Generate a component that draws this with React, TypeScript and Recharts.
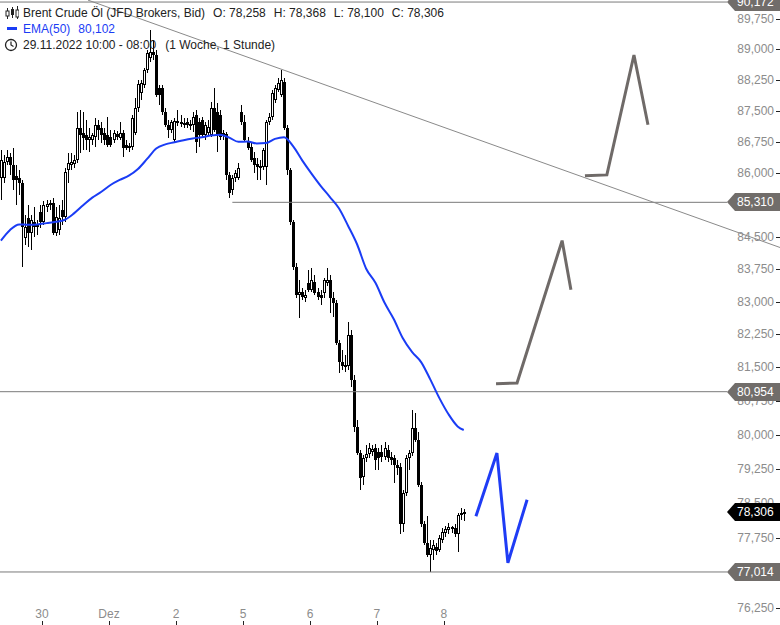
import React from 'react';
import { ComposedChart, Bar, Line, XAxis, YAxis, ReferenceLine } from 'recharts';

const W = 780;
const H = 625;
const FONT = '"Liberation Sans", Arial, sans-serif';

// Brent Crude, hourly candles 29.11.2022 10:00 -> 08.12.2022 08:00
const opens = [
  85.89, 85.89, 86.27, 86.39, 86.2, 85.94, 85.89, 85.77, 84.47, 84.94,
  84.59, 84.85, 84.73, 85.09, 84.85, 85.2, 85.25, 85.3, 84.59, 84.66,
  85.13, 84.97, 86.08, 86.2, 86.22, 86.32, 87.09, 86.97, 86.92, 86.8,
  86.8, 86.87, 87.16, 87.09, 86.97, 86.92, 86.87, 86.8, 86.94, 86.85,
  86.97, 86.68, 86.61, 86.63, 86.97, 87.57, 87.93, 88.13, 88.49, 88.79,
  88.93, 88.86, 88.06, 88.06, 87.47, 87.16, 87.04, 86.8, 87.21, 87.23,
  87.18, 87.23, 87.16, 87.16, 87.4, 87.23, 87.28, 86.92, 86.97, 86.92,
  87.57, 87.47, 87.4, 86.92, 86.94, 85.96, 85.6, 85.89, 85.89, 87.47,
  87.23, 86.78, 86.63, 86.37, 86.22, 86.15, 86.15, 86.15, 87.23, 87.35,
  87.76, 88.01, 87.89, 88.2, 87.09, 86.08, 84.85, 83.8, 83.16, 83.23,
  83.09, 83.43, 83.27, 83.45, 83.23, 83.16, 83.2, 83.43, 83.5, 83.09,
  82.97, 82.06, 81.62, 81.53, 81.53, 82.24, 81.22, 80.17, 79.59, 79.07,
  79.48, 79.57, 79.62, 79.7, 79.62, 79.62, 79.51, 79.66, 79.51, 79.48,
  79.33, 79.29, 78.04, 78.72, 79.48, 79.59, 80.15, 79.88, 78.89, 78.04,
  77.64, 77.38, 77.49, 77.55, 77.49, 77.7, 77.84, 77.91, 77.93, 77.95,
  77.82, 78.23, 78.258,
];
const highs = [
  86.56, 86.44, 86.56, 86.49, 86.61, 86.2, 86.08, 85.84, 85.01, 85.25,
  85.01, 85.2, 84.9, 85.25, 85.34, 85.37, 85.37, 85.41, 85.2, 85.25,
  85.37, 86.13, 86.49, 86.49, 86.44, 87.47, 87.52, 87.47, 87.28, 87.09,
  86.97, 87.33, 87.28, 87.23, 87.09, 87.35, 87.04, 87.04, 87.02, 87.23,
  87.04, 86.8, 86.73, 87.4, 87.81, 88.25, 88.25, 88.54, 88.98, 89.48,
  89.23, 88.98, 88.13, 88.13, 87.57, 87.28, 87.28, 87.33, 87.52, 87.4,
  87.33, 87.33, 87.28, 87.47, 87.52, 87.33, 87.35, 87.23, 87.28, 87.71,
  88.06, 87.69, 87.52, 87.04, 86.99, 86.03, 85.96, 86.08, 86.25, 87.64,
  87.4, 86.87, 86.73, 86.51, 86.37, 86.32, 86.61, 87.28, 87.45, 88.01,
  88.13, 88.3, 88.49, 88.3, 87.16, 86.13, 84.9, 83.89, 83.5, 83.32,
  83.27, 83.73, 83.77, 83.61, 83.32, 83.27, 83.54, 83.77, 83.61, 83.23,
  83.04, 82.13, 81.9, 81.78, 82.53, 82.35, 81.33, 80.33, 79.66, 79.55,
  79.77, 79.81, 79.77, 79.79, 79.7, 79.77, 79.84, 79.77, 79.62, 79.55,
  79.44, 79.37, 78.79, 79.55, 79.66, 80.55, 80.48, 80.06, 78.96, 78.1,
  78.21, 77.7, 77.7, 77.64, 77.81, 77.96, 77.99, 78.06, 78.01, 78.04,
  78.29, 78.4, 78.368,
];
const lows = [
  85.37, 85.77, 86.2, 85.96, 85.6, 85.25, 85.49, 83.8, 84.31, 84.27,
  84.2, 84.5, 84.55, 84.71, 84.78, 85.09, 85.13, 84.55, 84.52, 84.55,
  84.78, 84.85, 85.77, 86.08, 86.13, 86.25, 86.49, 86.56, 86.56, 86.51,
  86.68, 86.63, 86.8, 86.73, 86.68, 86.63, 86.63, 86.73, 86.8, 86.8,
  86.39, 86.56, 86.51, 86.56, 86.92, 87.47, 87.76, 88.06, 88.42, 88.69,
  88.74, 87.84, 87.64, 87.4, 87.11, 86.85, 86.97, 86.75, 87.14, 87.11,
  87.09, 87.09, 87.04, 86.99, 86.49, 86.63, 86.85, 86.8, 86.9, 86.87,
  86.99, 86.51, 86.8, 86.8, 85.84, 85.41, 85.49, 85.79, 85.84, 87.16,
  86.75, 86.56, 86.27, 86.01, 85.84, 85.84, 86.08, 85.72, 87.16, 87.28,
  87.69, 87.96, 87.84, 87.04, 85.96, 84.78, 83.73, 83.09, 82.63, 83.04,
  83.0, 83.23, 83.23, 83.16, 83.04, 82.92, 83.09, 83.36, 82.74, 82.65,
  82.01, 81.37, 81.44, 81.4, 81.44, 81.07, 80.06, 79.55, 78.79, 78.89,
  79.4, 79.48, 79.53, 79.22, 79.22, 79.4, 79.44, 79.4, 79.33, 78.94,
  79.11, 77.82, 77.86, 78.64, 79.22, 79.53, 79.84, 78.85, 77.97, 77.6,
  77.34, 77.014, 77.27, 77.38, 77.45, 77.64, 77.77, 77.82, 77.84, 77.77,
  77.45, 78.14, 78.1,
];
const closes = [
  86.32, 86.27, 86.39, 86.2, 85.84, 85.84, 85.77, 84.73, 84.73, 84.59,
  84.9, 84.73, 84.78, 84.85, 85.25, 85.27, 85.3, 84.59, 84.97, 84.94,
  84.97, 86.03, 86.25, 86.27, 86.32, 87.09, 86.92, 86.85, 86.8, 86.87,
  86.92, 87.16, 87.04, 86.92, 86.8, 86.68, 86.68, 86.97, 86.87, 86.97,
  86.61, 86.61, 86.66, 87.33, 87.57, 88.15, 88.18, 88.49, 88.91, 88.93,
  88.86, 87.89, 87.89, 87.47, 87.16, 87.04, 87.23, 87.26, 87.26, 87.18,
  87.21, 87.16, 87.18, 87.35, 86.75, 86.92, 86.92, 87.16, 87.11, 87.57,
  87.04, 86.92, 86.87, 86.97, 85.96, 85.53, 85.89, 86.01, 86.13, 87.23,
  86.8, 86.61, 86.32, 86.2, 86.15, 86.18, 86.56, 87.23, 87.35, 87.93,
  88.06, 88.18, 88.25, 87.09, 86.08, 84.85, 83.8, 83.16, 83.23, 83.11,
  83.16, 83.27, 83.5, 83.2, 83.11, 83.09, 83.5, 83.5, 83.09, 82.97,
  82.06, 81.62, 81.53, 81.55, 82.24, 81.22, 80.17, 79.59, 79.04, 79.48,
  79.57, 79.7, 79.68, 79.44, 79.48, 79.51, 79.7, 79.48, 79.44, 79.33,
  79.26, 78.04, 78.72, 79.48, 79.59, 80.15, 79.88, 78.89, 78.04, 77.64,
  77.38, 77.53, 77.6, 77.47, 77.74, 77.86, 77.93, 77.97, 77.97, 77.82,
  78.23, 78.29, 78.306,
];

// EMA(50), sampled every third candle
const emaIdx = [
  0, 3, 6, 9, 12, 15, 18, 21, 24, 27, 30, 33, 36, 39, 42, 45, 48, 51, 54, 57,
  60, 63, 66, 69, 72, 75, 78, 81, 84, 87, 90, 93, 96, 99, 102, 105, 108, 111, 114, 117,
  120, 123, 126, 129, 132, 135, 138, 141, 144, 147, 150, 152,
];
const emaVals = [
  84.41, 84.66, 84.79, 84.78, 84.79, 84.82, 84.85, 84.9, 85.05, 85.24,
  85.42, 85.56, 85.72, 85.84, 85.94, 86.1, 86.34, 86.59, 86.69, 86.74,
  86.79, 86.83, 86.86, 86.9, 86.92, 86.85, 86.75, 86.76, 86.71, 86.72,
  86.82, 86.86, 86.64, 86.3, 85.99, 85.7, 85.44, 85.17, 84.76, 84.32,
  83.75, 83.43, 82.97, 82.6, 82.16, 81.85, 81.62, 81.23, 80.81, 80.45,
  80.18, 80.1,
];

// axes
const dayTicks = [13.5, 35.5, 57.5, 79.5, 101.5, 123.5, 145.5];
const dayLabels = ['30', 'Dez', '2', '5', '6', '7', '8'];
const priceTicks = [
  76.25, 77, 77.75, 78.5, 79.25, 80, 80.75, 81.5, 82.25, 83, 83.75, 84.5, 85.25, 86,
  86.75, 87.5, 88.25, 89, 89.75,
];
const xDomain = [-0.3, 255.86];
const yDomain = [75.892, 90.223];

// drawn levels
const levelValues = [90.172, 85.31, 80.954, 77.014];
const levelStart = [-0.3, 76, -0.3, -0.3];
const levelEnd = 238.5;
const tagValues = [90.172, 85.31, 80.954, 78.306, 77.014];
const tagColors = ['#716d6a', '#716d6a', '#716d6a', '#000000', '#716d6a'];

// trend line
const trendIdx = [28.6, 255.86];
const trendVals = [90.22, 84.25];

// scenario arrows
const grayAIdx = [162.6, 169.5, 184.3, 187.2];
const grayAVals = [81.13, 81.15, 84.41, 83.27];
const grayBIdx = [191.8, 199.0, 207.9, 212.5];
const grayBVals = [85.94, 85.96, 88.86, 87.16];
const blueIdx = [156.0, 162.9, 166.5, 172.8];
const blueVals = [78.21, 79.59, 77.21, 78.57];

const candles = opens.map((o, i) => ({
  i,
  o,
  h: highs[i],
  l: lows[i],
  c: closes[i],
  range: [lows[i], highs[i]],
}));

const pts = (xs: number[], vs: number[]) => xs.map((i, k) => ({ i, v: vs[k] }));
const emaData = pts(emaIdx, emaVals);

const fmt = (v: number) => v.toFixed(3).replace('.', ',');

const Candle = (props: any) => {
  const { x, y, width, height, payload } = props;
  if (!payload || y == null || isNaN(y)) return null;
  const { o, h, l, c } = payload;
  const cx = Math.round(x + width / 2);
  const span = Math.log(h) - Math.log(l);
  const toY = (p: number) => (span > 0 ? y + ((Math.log(h) - Math.log(p)) / span) * height : y);
  const yo = toY(o);
  const yc = toY(c);
  const top = Math.round(Math.min(yo, yc));
  const bot = Math.max(Math.round(Math.max(yo, yc)), top + 1);
  const up = c >= o;
  return (
    <g>
      <line x1={cx + 0.5} x2={cx + 0.5} y1={Math.round(y)} y2={Math.round(y + height)} stroke="#000" />
      {up ? (
        <rect x={cx - 0.5} y={top + 0.5} width={2} height={Math.max(bot - top - 1, 1)} fill="#fff" stroke="#000" />
      ) : (
        <rect x={cx - 1} y={top} width={3} height={bot - top} fill="#000" />
      )}
    </g>
  );
};

// price tag drawn as a tick of a second, overlaying y axis
const TagTick = (props: any) => {
  const { y, payload } = props;
  const k = tagValues.indexOf(payload.value);
  const x0 = W - 53;
  const cy = Math.round(y);
  return (
    <g>
      <polygon
        points={`${x0},${cy} ${x0 + 8},${cy - 9} ${W},${cy - 9} ${W},${cy + 9} ${x0 + 8},${cy + 9}`}
        fill={tagColors[k]}
      />
      <text x={x0 + 10} y={cy + 4} fontSize={12} fill="#fff" fontFamily={FONT}>
        {fmt(payload.value)}
      </text>
    </g>
  );
};

const PriceTick = (props: any) => {
  const { y, payload } = props;
  const ly = Math.round(y) + 0.5;
  return (
    <g>
      <text x={W - 6} y={y + 4} textAnchor="end" fontSize={12} fill="#8c8c8c" fontFamily={FONT}>
        {fmt(payload.value)}
      </text>
      <line x1={W - 4} x2={W} y1={ly} y2={ly} stroke="#222" />
    </g>
  );
};

const DayTick = (props: any) => {
  const { x, payload } = props;
  const k = dayTicks.indexOf(payload.value);
  const lx = Math.round(x) + 0.5;
  return (
    <g>
      <text x={x} y={H - 7} textAnchor="middle" fontSize={12} fill="#8c8c8c" fontFamily={FONT}>
        {dayLabels[k]}
      </text>
      <line x1={lx} x2={lx} y1={H - 4} y2={H} stroke="#222" />
    </g>
  );
};

const CandleIcon = () => (
  <svg width={14} height={14} style={{ position: 'absolute', left: 5, top: 6 }}>
    <line x1={2.5} x2={2.5} y1={2} y2={13} stroke="#222" />
    <rect x={1} y={5} width={3} height={5} fill="#fff" stroke="#222" />
    <line x1={7.5} x2={7.5} y1={1} y2={12} stroke="#222" />
    <rect x={6} y={3} width={3} height={6} fill="#222" />
    <line x1={12.5} x2={12.5} y1={0} y2={13} stroke="#222" />
    <rect x={11} y={4} width={3} height={7} fill="#fff" stroke="#222" />
  </svg>
);

const ClockIcon = () => (
  <svg width={14} height={14} style={{ position: 'absolute', left: 4, top: 38 }}>
    <circle cx={7} cy={7} r={5.5} fill="none" stroke="#222" strokeWidth={1.3} />
    <polyline points="7,3.5 7,7 9.5,8.5" fill="none" stroke="#222" strokeWidth={1.2} />
  </svg>
);

const Legend = () => (
  <div
    style={{
      position: 'absolute',
      left: 0,
      top: 0,
      fontFamily: FONT,
      fontSize: 12,
      color: '#222',
      lineHeight: '16px',
      whiteSpace: 'nowrap',
    }}
  >
    <CandleIcon />
    <div style={{ position: 'absolute', left: 23, top: 5 }}>
      Brent Crude Öl (JFD Brokers, Bid)
      <span style={{ marginLeft: 8 }}>O: 78,258</span>
      <span style={{ marginLeft: 8 }}>H: 78,368</span>
      <span style={{ marginLeft: 8 }}>L: 78,100</span>
      <span style={{ marginLeft: 8 }}>C: 78,306</span>
    </div>
    <div style={{ position: 'absolute', left: 7, top: 27, width: 10, height: 3, background: '#1a3cf5' }} />
    <div style={{ position: 'absolute', left: 23, top: 21, color: '#1a3cf5' }}>
      EMA(50)<span style={{ marginLeft: 8 }}>80,102</span>
    </div>
    <ClockIcon />
    <div style={{ position: 'absolute', left: 23, top: 37 }}>
      29.11.2022 10:00 - 08:00<span style={{ marginLeft: 9 }}>(1 Woche, 1 Stunde)</span>
    </div>
  </div>
);

export default function App() {
  return (
    <div style={{ position: 'relative', width: W, height: H, background: '#fff', overflow: 'hidden' }}>
      <style>{'body{margin:0}'}</style>
      <ComposedChart width={W} height={H} data={candles} margin={{ top: 0, right: 0, bottom: 0, left: 0 }}>
        <XAxis
          dataKey="i"
          type="number"
          domain={xDomain}
          allowDataOverflow
          ticks={dayTicks}
          interval={0}
          mirror
          height={30}
          axisLine={false}
          tickLine={false}
          tick={<DayTick />}
        />
        <YAxis
          yAxisId="price"
          orientation="right"
          type="number"
          scale="log"
          domain={yDomain}
          allowDataOverflow
          ticks={priceTicks}
          interval={0}
          mirror
          width={60}
          axisLine={false}
          tickLine={false}
          tick={<PriceTick />}
        />
        <YAxis
          yAxisId="tags"
          orientation="right"
          type="number"
          scale="log"
          domain={yDomain}
          allowDataOverflow
          ticks={tagValues}
          interval={0}
          mirror
          width={60}
          axisLine={false}
          tickLine={false}
          tick={<TagTick />}
        />
        {levelValues.map((v, k) => (
          <ReferenceLine
            key={`lvl-${k}`}
            yAxisId="price"
            segment={[
              { x: levelStart[k], y: v },
              { x: levelEnd, y: v },
            ]}
            stroke="#7a7a7a"
            strokeWidth={1}
            ifOverflow="visible"
          />
        ))}
        <ReferenceLine
          yAxisId="price"
          segment={[
            { x: trendIdx[0], y: trendVals[0] },
            { x: trendIdx[1], y: trendVals[1] },
          ]}
          stroke="#8a8a8a"
          strokeWidth={1}
          ifOverflow="visible"
        />
        <Bar yAxisId="price" dataKey="range" barSize={3} shape={<Candle />} isAnimationActive={false} />
        <Line
          yAxisId="price"
          data={emaData}
          dataKey="v"
          type="monotone"
          stroke="#1a3cf5"
          strokeWidth={2}
          dot={false}
          activeDot={false}
          isAnimationActive={false}
        />
        <Line
          yAxisId="price"
          data={pts(grayAIdx, grayAVals)}
          dataKey="v"
          type="linear"
          stroke="#6f6a68"
          strokeWidth={3}
          dot={false}
          activeDot={false}
          isAnimationActive={false}
        />
        <Line
          yAxisId="price"
          data={pts(grayBIdx, grayBVals)}
          dataKey="v"
          type="linear"
          stroke="#6f6a68"
          strokeWidth={3}
          dot={false}
          activeDot={false}
          isAnimationActive={false}
        />
        <Line
          yAxisId="price"
          data={pts(blueIdx, blueVals)}
          dataKey="v"
          type="linear"
          stroke="#1f3cf5"
          strokeWidth={3}
          dot={false}
          activeDot={false}
          isAnimationActive={false}
        />
      </ComposedChart>
      <Legend />
    </div>
  );
}
